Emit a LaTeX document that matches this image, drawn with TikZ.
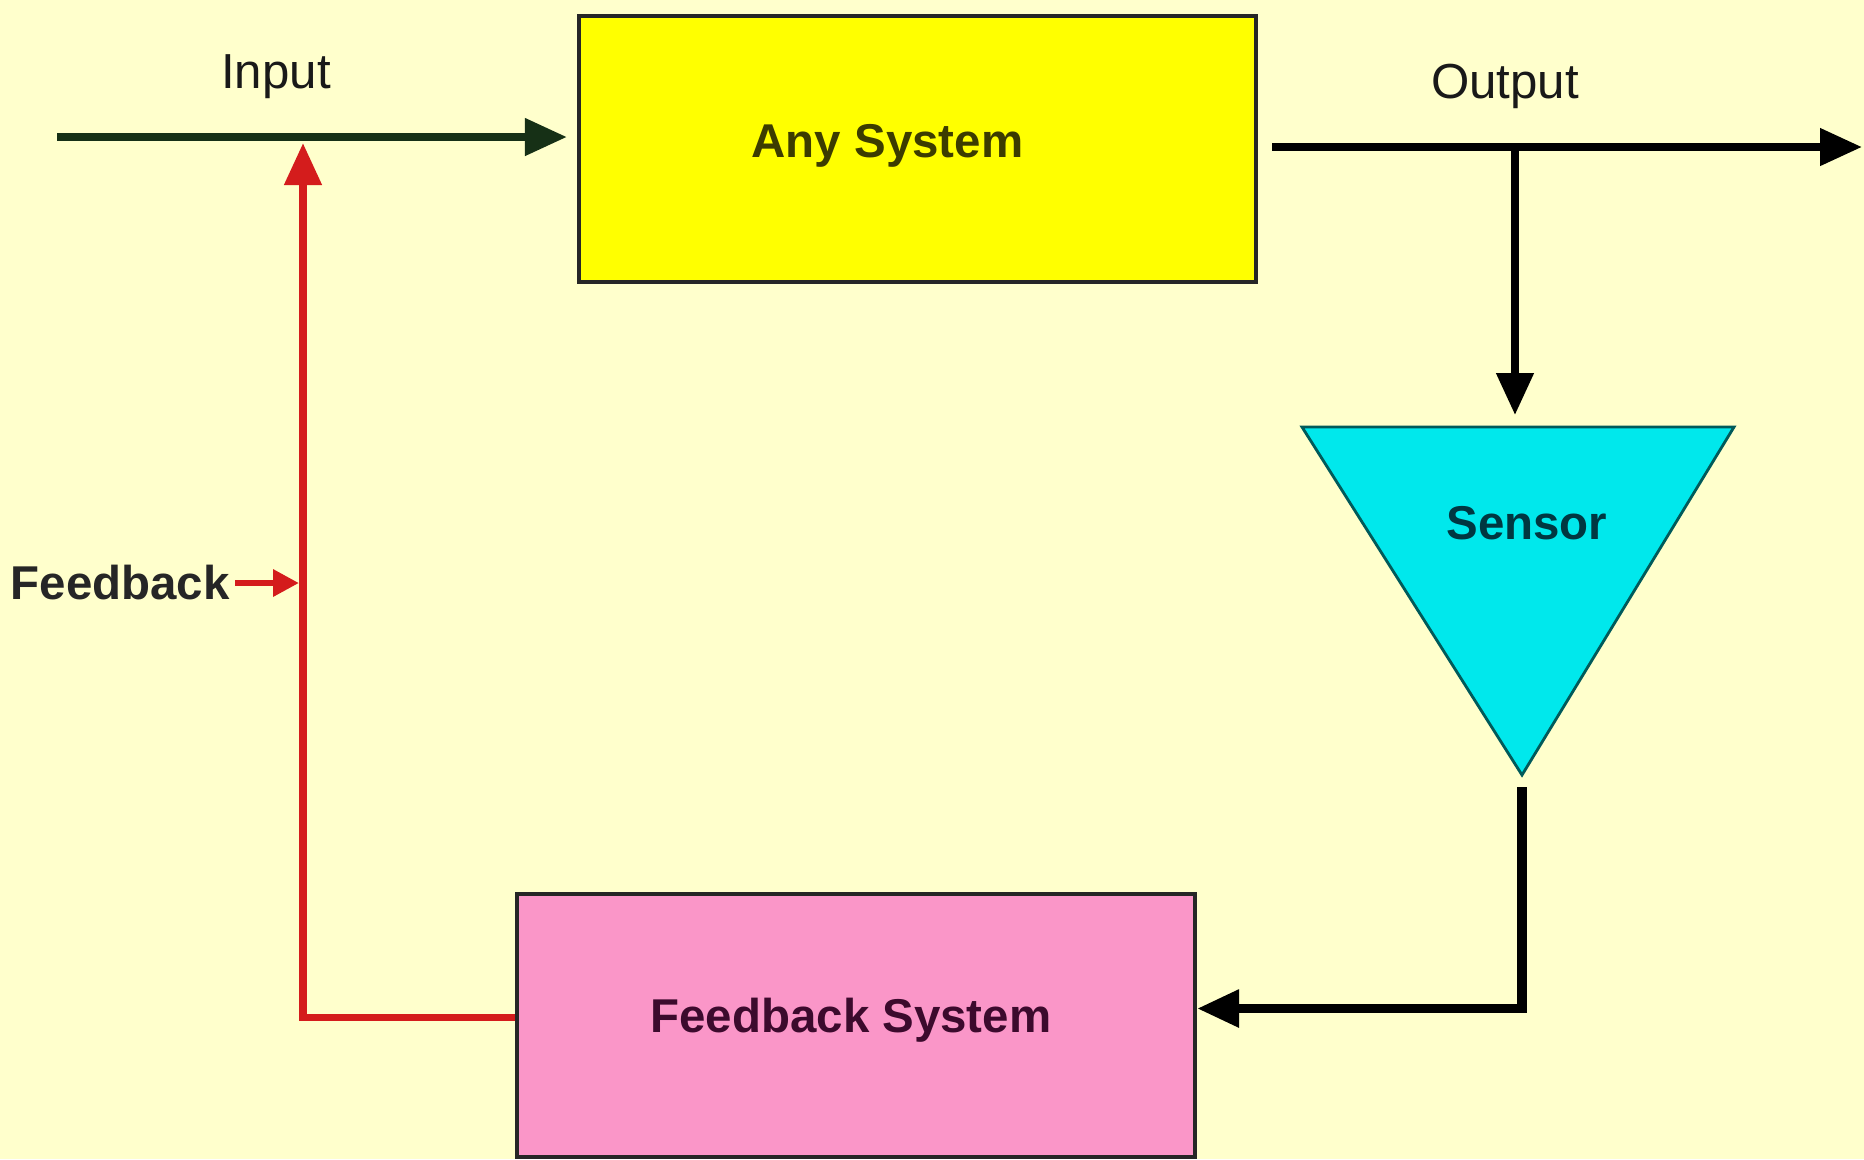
\documentclass[tikz,border=0pt]{standalone}
\usepackage{fontspec}
\setmainfont{Liberation Sans}
\usetikzlibrary{positioning}
\usetikzlibrary{calc}
\usetikzlibrary{arrows.meta}

\definecolor{bgyellow}{RGB}{255,255,204}
\definecolor{sysyellow}{RGB}{255,255,0}
\definecolor{sensorcyan}{RGB}{0,232,236}
\definecolor{fbpink}{RGB}{250,150,200}
\definecolor{ingreen}{RGB}{22,48,22}
\definecolor{fbred}{RGB}{212,28,28}

\tikzset{
  block/.style={draw=black!85, line width=1.2pt, minimum width=6.77cm, minimum height=2.66cm,
    font=\fontsize{13.5}{16}\selectfont\bfseries},
  lbl/.style={font=\fontsize{14}{16}\selectfont, text=black!90},
  bigtip/.style={-{Triangle[length=0.42cm,width=0.36cm]}},
  smalltip/.style={-{Triangle[length=0.26cm,width=0.26cm]}},
}

\begin{document}
\begin{tikzpicture}
	\useasboundingbox (0,0) rectangle (18.64,-11.59);
	\fill[bgyellow] (0,0) rectangle (18.64,-11.59);
	% blocks (a blank rule moves the text off centre, as in the picture)
	\node[block, fill=sysyellow, text={rgb,255:red,60;green,60;blue,0}] (sys) at (9.175,-1.49) {Any System\rule[-0.16cm]{0.6cm}{0pt}};
	\node[block, fill=fbpink, minimum width=6.78cm, minimum height=2.63cm, text={rgb,255:red,60;green,10;blue,45}] (fbsys) at (8.56,-10.255) {Feedback System\rule[-0.2cm]{0.1cm}{0pt}};
	% sensor
	\coordinate (sl) at (13.02,-4.27);
	\coordinate (sr) at (17.34,-4.27);
	\coordinate (sa) at (15.22,-7.75);
	\fill[sensorcyan, draw={rgb,255:red,0;green,90;blue,90}, line width=0.8pt] (sl) -- (sr) -- (sa) -- cycle;
	\node[font=\fontsize{13.5}{16}\selectfont\bfseries, text={rgb,255:red,0;green,55;blue,65}] (sensor) at (15.27,-5.23) {Sensor};
	% labels
	\node[lbl] (inlbl) at (2.76,-0.77) {Input};
	\node[lbl] (outlbl) at (15.05,-0.86) {Output};
	\node[anchor=west, inner sep=0pt, font=\fontsize{13.5}{16}\selectfont\bfseries, text=black!85] (fblbl) at (0.1,-5.83) {Feedback};
	% points on the lines
	\coordinate (inbeg) at (0.57,-1.37);
	\coordinate (join) at (3.03,-1.37);
	\coordinate (outbeg) at (12.72,-1.47);
	\coordinate (outend) at (18.62,-1.47);
	\coordinate (tap) at (15.15,-1.47);
	\coordinate (sensin) at (15.15,-4.15);
	\coordinate (sensout) at (15.22,-7.87);
	\coordinate (fbjoin) at (2.99,-5.83);
	% connectors
	\draw[color=ingreen, line width=2.2pt][bigtip] (inbeg) -- ([xshift=-0.1cm]sys.west |- inbeg);
	\draw[color=black, line width=2.2pt][bigtip] (outbeg) -- (outend);
	\draw[color=black, line width=2.2pt][bigtip] (tap) -- (sensin);
	\draw[color=black, line width=2.6pt][bigtip] (sensout) |- ([yshift=0.17cm]fbsys.east);
	\draw[color=fbred, line width=2.2pt][bigtip] ([yshift=0.08cm]fbsys.west) -| ([yshift=-0.06cm]join);
	\draw[color=fbred, line width=1.8pt][smalltip] ([xshift=0.05cm]fblbl.east) -- (fbjoin);
\end{tikzpicture}
\end{document}
